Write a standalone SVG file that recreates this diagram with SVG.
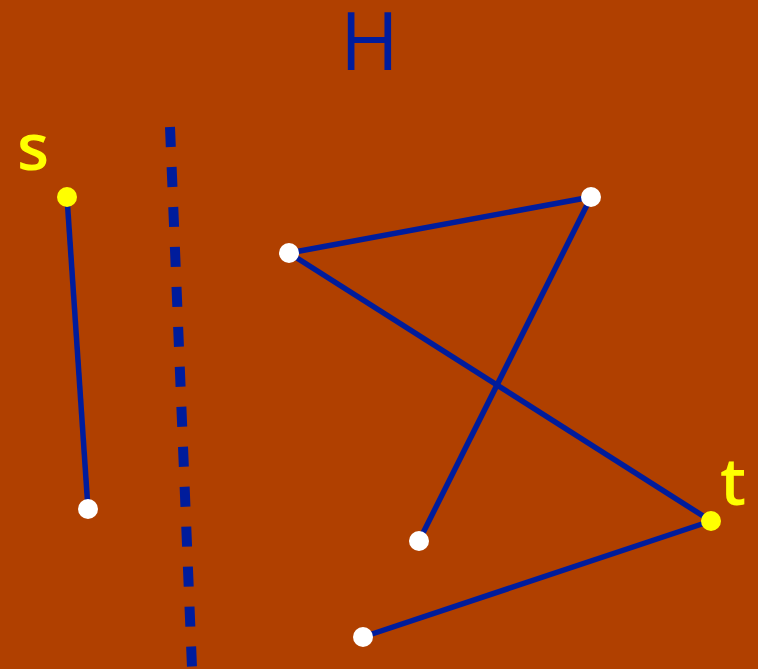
<svg xmlns="http://www.w3.org/2000/svg" width="758" height="669" viewBox="0 0 758 669">
<style>
.edge{stroke:#001c9c;stroke-width:5.5;fill:none}
.dash{stroke:#001c9c;stroke-width:10;stroke-dasharray:20 20;fill:none}
.node{fill:#ffffff}
.term{fill:#ffff00}
.lbl{font-family:"Open Sans","DejaVu Sans",sans-serif;fill:#ffff00;font-size:66px;font-weight:600}
.title{font-family:"Open Sans","DejaVu Sans",sans-serif;fill:#001c9c;font-size:80px}
</style>
<rect width="758" height="669" fill="#b04000"/>
<text class="title" x="369.5" y="70" text-anchor="middle">H</text>
<g id="connectors">
<line class="dash" x1="170" y1="127" x2="192.5" y2="680"/>
<line class="edge" x1="67" y1="197" x2="88" y2="509"/>
<line class="edge" x1="289" y1="253" x2="591" y2="197"/>
<line class="edge" x1="289" y1="253" x2="711" y2="521"/>
<line class="edge" x1="591" y1="197" x2="419" y2="541"/>
<line class="edge" x1="711" y1="521" x2="363" y2="637"/>
</g>
<g id="s"><circle class="term" cx="67" cy="197" r="10"/><text class="lbl" x="17" y="170">s</text></g>
<g id="n1"><circle class="node" cx="88" cy="509" r="10"/></g>
<g id="n2"><circle class="node" cx="289" cy="253" r="10"/></g>
<g id="n3"><circle class="node" cx="591" cy="197" r="10"/></g>
<g id="n4"><circle class="node" cx="419" cy="541" r="10"/></g>
<g id="n5"><circle class="node" cx="363" cy="637" r="10"/></g>
<g id="t"><circle class="term" cx="711" cy="521" r="10"/><text class="lbl" x="720" y="505">t</text></g>
</svg>
